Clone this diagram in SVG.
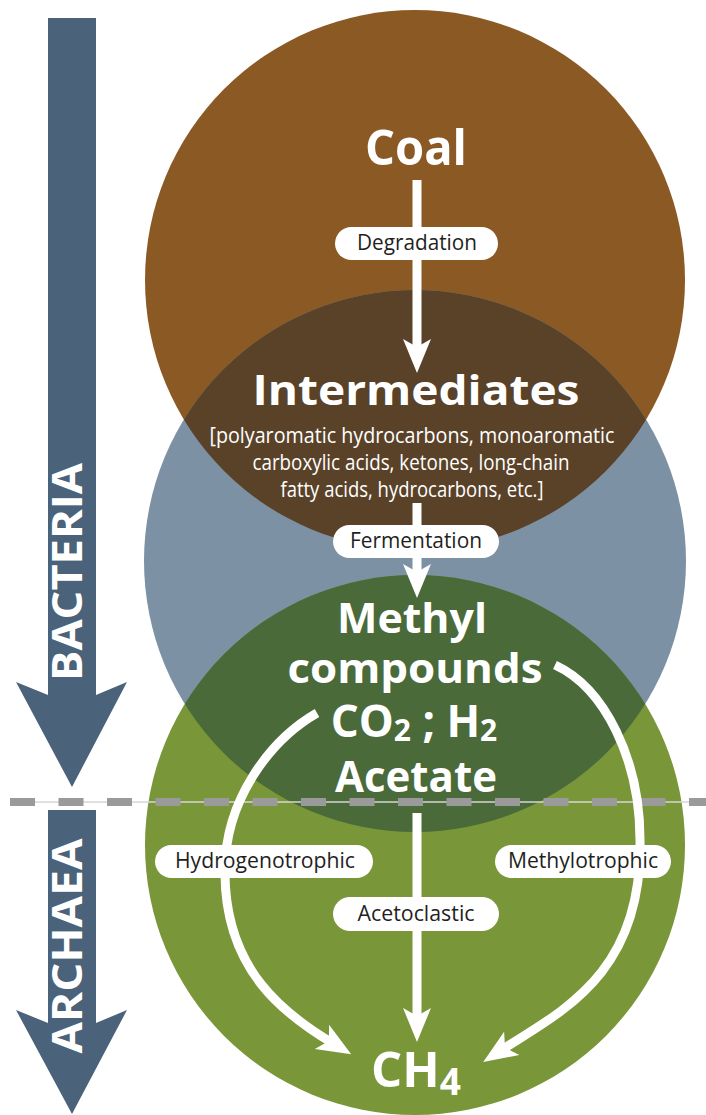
<svg xmlns="http://www.w3.org/2000/svg" width="706" height="1115" viewBox="0 0 706 1115">
<style>
.big{font-family:"Open Sans","Liberation Sans",sans-serif;font-weight:700;fill:#fff;text-anchor:middle}
.small{font-family:"Open Sans","Liberation Sans",sans-serif;font-weight:400;fill:#fff;text-anchor:middle;font-size:22px}
.pill{fill:#fff}
.pt{font-family:"Open Sans","Liberation Sans",sans-serif;font-weight:400;fill:#231f20;text-anchor:middle;font-size:21px}
.side{font-family:"Open Sans","Liberation Sans",sans-serif;font-weight:700;fill:#fff;text-anchor:middle;font-size:41px}
.conn{fill:none;stroke:#fff;stroke-width:9}
</style>
<defs>
<clipPath id="cBrown"><circle cx="415" cy="280" r="270"/></clipPath>
<clipPath id="cGreen"><circle cx="415" cy="845" r="270"/></clipPath>
<marker id="ah" markerUnits="userSpaceOnUse" markerWidth="40" markerHeight="40" refX="0" refY="0" orient="auto" style="overflow:visible">
<path d="M20,0 L-14,-14 L-6,0 L-14,14 Z" fill="#fff"/>
</marker>
</defs>
<rect width="706" height="1115" fill="#fff"/>
<g id="circles">
<circle id="brown" cx="415" cy="280" r="270" fill="#8b5a24"/>
<circle id="blue" cx="415" cy="561" r="271" fill="#7d91a4"/>
<circle id="green" cx="415" cy="845" r="270" fill="#799639"/>
<circle cx="415" cy="561" r="271" fill="#5a4229" clip-path="url(#cBrown)"/>
<circle cx="415" cy="561" r="271" fill="#4a6a3a" clip-path="url(#cGreen)"/>
</g>
<g id="side-arrows">
<polygon id="bacteria-arrow" points="48,18 96,18 96,695 127,682 72,787 16,682 48,695" fill="#4a627a"/>
<text class="side" transform="translate(82,572) rotate(-90)" textLength="218" lengthAdjust="spacingAndGlyphs">BACTERIA</text>
<polygon id="archaea-arrow" points="48,810 96,810 96,1023 127,1010 72,1114 16,1010 48,1023" fill="#4a627a"/>
<text class="side" transform="translate(82,946) rotate(-90)" textLength="215" lengthAdjust="spacingAndGlyphs">ARCHAEA</text>
</g>
<g id="divider">
<line x1="10" y1="802" x2="706" y2="802" stroke="#d6d6d6" stroke-width="1.5"/>
<line x1="10" y1="802" x2="706" y2="802" stroke="#9a9a9a" stroke-width="8" stroke-dasharray="25 23.5"/>
</g>
<g id="connectors">
<path class="conn" d="M417,180 V353" marker-end="url(#ah)"/>
<path class="conn" d="M417,503 V578" marker-end="url(#ah)"/>
<path class="conn" d="M417,813 V1022" marker-end="url(#ah)"/>
<path class="conn" d="M317,713 C270,740 225,800 225,870 C224,970 285,1015 334,1044" marker-end="url(#ah)"/>
<path class="conn" d="M555,665 C605,688 640,760 640,840 C643,975 560,1012 500,1051" marker-end="url(#ah)"/>
</g>
<g id="edge-labels">
<g id="lbl-degradation"><rect class="pill" x="335" y="227" width="163" height="33" rx="16.5"/><text class="pt" x="417" y="250" textLength="120" lengthAdjust="spacingAndGlyphs">Degradation</text></g>
<g id="lbl-fermentation"><rect class="pill" x="333" y="525" width="166" height="33" rx="16.5"/><text class="pt" x="416" y="548" textLength="132" lengthAdjust="spacingAndGlyphs">Fermentation</text></g>
<g id="lbl-hydrogenotrophic"><rect class="pill" x="155" y="845" width="218" height="33" rx="16.5"/><text class="pt" x="265" y="868" textLength="180" lengthAdjust="spacingAndGlyphs">Hydrogenotrophic</text></g>
<g id="lbl-methylotrophic"><rect class="pill" x="495" y="845" width="176" height="33" rx="16.5"/><text class="pt" x="583" y="868" textLength="150" lengthAdjust="spacingAndGlyphs">Methylotrophic</text></g>
<g id="lbl-acetoclastic"><rect class="pill" x="333" y="897" width="166" height="34" rx="17"/><text class="pt" x="416" y="921" textLength="117" lengthAdjust="spacingAndGlyphs">Acetoclastic</text></g>
</g>
<g id="coal"><text class="big" x="416" y="165" font-size="49" textLength="102" lengthAdjust="spacingAndGlyphs">Coal</text></g>
<g id="intermediates">
<text class="big" x="416" y="405" font-size="42" textLength="327" lengthAdjust="spacingAndGlyphs">Intermediates</text>
<text class="small" x="412" y="443" textLength="405" lengthAdjust="spacingAndGlyphs">[polyaromatic hydrocarbons, monoaromatic</text>
<text class="small" x="411" y="470" textLength="317" lengthAdjust="spacingAndGlyphs">carboxylic acids, ketones, long-chain</text>
<text class="small" x="412" y="497" textLength="263" lengthAdjust="spacingAndGlyphs">fatty acids, hydrocarbons, etc.]</text>
</g>
<g id="products">
<text class="big" x="412" y="633" font-size="42" textLength="150" lengthAdjust="spacingAndGlyphs">Methyl</text>
<text class="big" x="415" y="683" font-size="42" textLength="255" lengthAdjust="spacingAndGlyphs">compounds</text>
<text class="big" x="414" y="737" font-size="44">CO<tspan font-size="30" dy="4">2</tspan><tspan dy="-4"> ; H</tspan><tspan font-size="30" dy="4">2</tspan></text>
<text class="big" x="416" y="792" font-size="43" textLength="162" lengthAdjust="spacingAndGlyphs">Acetate</text>
</g>
<g id="ch4"><text class="big" x="416" y="1087" font-size="49">CH<tspan font-size="37" dy="8">4</tspan></text></g>
</svg>
